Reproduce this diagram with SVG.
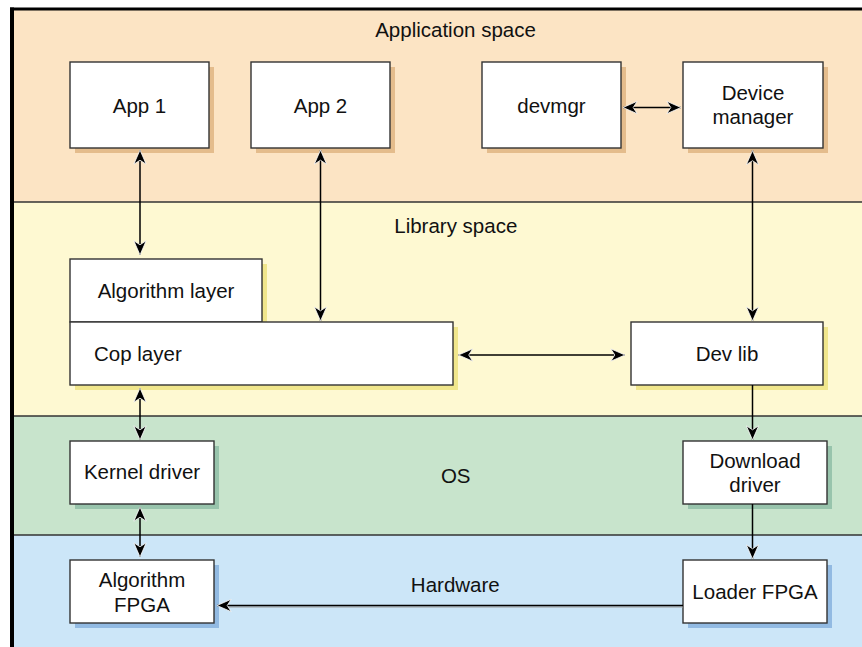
<svg xmlns="http://www.w3.org/2000/svg" width="862" height="647" viewBox="0 0 862 647">
<style>
text{font-family:"Liberation Sans",Arial,sans-serif;font-size:20.5px;fill:#111;text-anchor:middle}
.box{fill:#fff;stroke:#333;stroke-width:1.4}
.sa{fill:#E4BC8C}.sl{fill:#F0E68C}.so{fill:#98C4AC}.sh{fill:#92BAE2}
.ln{stroke:#000;stroke-width:1.5;fill:none}
.sep{stroke:#333;stroke-width:1.4}
</style>
<defs>
<marker id="ah" viewBox="0 0 16 14" refX="15" refY="7" markerWidth="16" markerHeight="14" markerUnits="userSpaceOnUse" orient="auto-start-reverse">
<path d="M15,7 L0.8,0.8 L4.8,7 L0.8,13.2 Z" fill="#000" stroke="#fff" stroke-width="0.8"/>
</marker>
</defs>
<rect width="862" height="647" fill="#fff"/>
<g id="bands">
<rect x="12" y="9" width="850" height="193" fill="#FCE4C4"/>
<rect x="12" y="202" width="850" height="214" fill="#FEF9D2"/>
<rect x="12" y="416" width="850" height="119" fill="#C8E4CC"/>
<rect x="12" y="535" width="850" height="112" fill="#CCE6F8"/>
<line class="sep" x1="12" y1="202" x2="862" y2="202"/>
<line class="sep" x1="12" y1="416" x2="862" y2="416"/>
<line class="sep" x1="12" y1="535" x2="862" y2="535"/>
<rect x="10" y="7.5" width="852" height="3" fill="#000"/>
<rect x="10" y="7.5" width="4" height="639.5" fill="#000"/>
<text x="455.5" y="37.3">Application space</text>
<text x="455.8" y="233.3">Library space</text>
<text x="455.7" y="482.7">OS</text>
<text x="455.3" y="591.7">Hardware</text>
</g>
<g id="app1"><rect class="sa" x="75" y="67" width="139" height="86"/><rect class="box" x="70" y="62" width="139" height="86"/><text x="139.5" y="113.3">App 1</text></g>
<g id="app2"><rect class="sa" x="256" y="67" width="139" height="86"/><rect class="box" x="251" y="62" width="139" height="86"/><text x="320.5" y="113.3">App 2</text></g>
<g id="devmgr"><rect class="sa" x="487" y="67" width="139" height="86"/><rect class="box" x="482" y="62" width="139" height="86"/><text x="551.5" y="113.3">devmgr</text></g>
<g id="devicemanager"><rect class="sa" x="688" y="67" width="140" height="86"/><rect class="box" x="683" y="62" width="140" height="86"/><text x="753" y="100">Device</text><text x="753" y="124.3">manager</text></g>
<g id="algorithmlayer"><rect class="sl" x="75" y="264" width="192" height="63"/><rect class="box" x="70" y="259" width="192" height="63"/><text x="166" y="297.7">Algorithm layer</text></g>
<g id="coplayer"><rect class="sl" x="75" y="327" width="383" height="63"/><rect class="box" x="70" y="322" width="383" height="63"/><text x="94" y="361" style="text-anchor:start">Cop layer</text></g>
<g id="devlib"><rect class="sl" x="636" y="327" width="192" height="63"/><rect class="box" x="631" y="322" width="192" height="63"/><text x="727" y="361">Dev lib</text></g>
<g id="kerneldriver"><rect class="so" x="75" y="446" width="144" height="63"/><rect class="box" x="70" y="441" width="144" height="63"/><text x="142" y="479.3">Kernel driver</text></g>
<g id="downloaddriver"><rect class="so" x="688" y="446" width="144" height="63"/><rect class="box" x="683" y="441" width="144" height="63"/><text x="755" y="468.3">Download</text><text x="755" y="491.7">driver</text></g>
<g id="algorithmfpga"><rect class="sh" x="75" y="565" width="144" height="63"/><rect class="box" x="70" y="560" width="144" height="63"/><text x="142" y="586.7">Algorithm</text><text x="142" y="611.7">FPGA</text></g>
<g id="loaderfpga"><rect class="sh" x="688" y="565" width="144" height="63"/><rect class="box" x="683" y="560" width="144" height="63"/><text x="755" y="599">Loader FPGA</text></g>
<g id="connectors">
<line class="ln" x1="140" y1="150" x2="140" y2="255" marker-start="url(#ah)" marker-end="url(#ah)"/>
<line class="ln" x1="320.5" y1="150" x2="320.5" y2="321" marker-start="url(#ah)" marker-end="url(#ah)"/>
<line class="ln" x1="623" y1="107.5" x2="681" y2="107.5" marker-start="url(#ah)" marker-end="url(#ah)"/>
<line class="ln" x1="752.5" y1="150.5" x2="752.5" y2="321" marker-start="url(#ah)" marker-end="url(#ah)"/>
<line class="ln" x1="458.5" y1="355" x2="625" y2="355" marker-start="url(#ah)" marker-end="url(#ah)"/>
<line class="ln" x1="752.5" y1="385" x2="752.5" y2="440" marker-end="url(#ah)"/>
<line class="ln" x1="752.5" y1="504" x2="752.5" y2="559" marker-end="url(#ah)"/>
<line class="ln" x1="140" y1="388" x2="140" y2="440" marker-start="url(#ah)" marker-end="url(#ah)"/>
<line class="ln" x1="140" y1="507" x2="140" y2="557" marker-start="url(#ah)" marker-end="url(#ah)"/>
<line x1="683" y1="607" x2="222" y2="607" stroke="#999" stroke-width="1"/>
<line class="ln" x1="683" y1="605.5" x2="217" y2="605.5" marker-end="url(#ah)"/>
</g>
</svg>
